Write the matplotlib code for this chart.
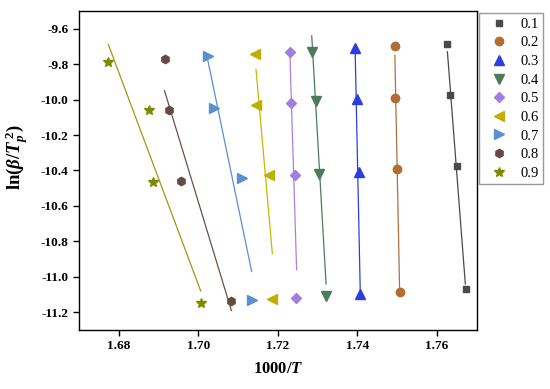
import numpy as np
import matplotlib
matplotlib.use('Agg')
import matplotlib.pyplot as plt
from matplotlib.ticker import FormatStrFormatter

plt.rcParams['font.family'] = ['Liberation Serif', 'DejaVu Serif']
plt.rcParams['axes.unicode_minus'] = False
plt.rcParams['mathtext.fontset'] = 'custom'
plt.rcParams['mathtext.rm'] = 'Liberation Serif:bold'
plt.rcParams['mathtext.bf'] = 'Liberation Serif:bold'
plt.rcParams['mathtext.it'] = 'Liberation Serif:italic:bold'

# conversion degree alpha
labels = ['0.1', '0.2', '0.3', '0.4', '0.5', '0.6', '0.7', '0.8', '0.9']

# 1000/T for each alpha (4 heating rates)
x_data = [
    [1.7626, 1.7632, 1.7651, 1.7673],
    [1.7494, 1.7495, 1.7500, 1.7506],
    [1.7394, 1.7399, 1.7403, 1.7407],
    [1.7285, 1.7296, 1.7304, 1.7320],
    [1.7230, 1.7233, 1.7243, 1.7246],
    [1.7142, 1.7144, 1.7178, 1.7184],
    [1.7024, 1.7039, 1.7109, 1.7135],
    [1.6915, 1.6925, 1.6957, 1.7083],
    [1.6772, 1.6875, 1.6886, 1.7006],
]
# ln(beta/Tp^2)
y_data = [
    [-9.685, -9.972, -10.377, -11.067],
    [-9.700, -9.989, -10.394, -11.088],
    [-9.709, -9.999, -10.409, -11.095],
    [-9.732, -10.010, -10.418, -11.110],
    [-9.732, -10.018, -10.424, -11.118],
    [-9.741, -10.029, -10.428, -11.123],
    [-9.755, -10.046, -10.441, -11.129],
    [-9.769, -10.057, -10.460, -11.137],
    [-9.785, -10.061, -10.465, -11.146],
]

# fitted lines, end points
fit_top_x = [1.7626, 1.7494, 1.7394, 1.7285, 1.7230, 1.7145, 1.7024, 1.6915, 1.6774]
fit_top_y = [-9.73, -9.75, -9.71, -9.64, -9.73, -9.83, -9.78, -9.95, -9.69]
fit_bot_x = [1.7671, 1.7506, 1.7407, 1.7321, 1.7247, 1.7186, 1.7134, 1.7083, 1.7006]
fit_bot_y = [-11.04, -11.09, -11.09, -11.04, -10.96, -10.87, -10.97, -11.19, -11.08]

markers = ['s', 'o', '^', 'v', 'D', '<', '>', 'h', '*']
sizes = [5, 6, 7, 7, 5, 7, 7, 6, 7]
colors = ['#4a4a4a', '#b26d34', '#2b3fe0', '#4b7b5b', '#a27fdf',
          '#bfb000', '#5a8fd0', '#654a40', '#7d8a00']
line_colors = ['#4a4a4a', '#b0703e', '#2b3fe0', '#4b7b5b', '#a882e0',
               '#c8b800', '#5a8fd0', '#6b5048', '#9a9a18']

fig = plt.figure(figsize=(5.5, 3.89), dpi=100)
ax = fig.add_axes([0.1436, 0.1517, 0.7234, 0.82])

for i in range(len(labels)):
    ax.plot([fit_top_x[i], fit_bot_x[i]], [fit_top_y[i], fit_bot_y[i]],
            color=line_colors[i], lw=0.9, zorder=2)
    ax.plot(x_data[i], y_data[i], linestyle='none', marker=markers[i],
            ms=sizes[i], color=colors[i], mec=colors[i], label=labels[i], zorder=3)

ax.set_xlim(1.67, 1.77)
ax.set_ylim(-11.3, -9.5)
ax.set_xticks(np.arange(1.68, 1.7601, 0.02))
ax.set_yticks(np.arange(-11.2, -9.59, 0.2))
ax.xaxis.set_major_formatter(FormatStrFormatter('%.2f'))
ax.yaxis.set_major_formatter(FormatStrFormatter('%.1f'))
ax.tick_params(direction='out', length=4, width=1, labelsize=9.5)
for lab in ax.get_xticklabels() + ax.get_yticklabels():
    lab.set_fontweight('bold')
for sp in ax.spines.values():
    sp.set_linewidth(1.0)

ax.set_xlabel(r'$\mathrm{1000/}T$', fontsize=12, labelpad=6)
ax.set_ylabel(r'$\mathrm{ln(}\beta/T_p^{\,2}\mathrm{)}$', fontsize=13.5)
ax.yaxis.set_label_coords(-0.12, 0.542)

leg = ax.legend(loc='upper left', bbox_to_anchor=(0.8709, 0.9658),
                bbox_transform=fig.transFigure, borderaxespad=0,
                fontsize=10.5, frameon=True, fancybox=False, edgecolor='#808080',
                borderpad=0.3, labelspacing=0.37, handlelength=2.2,
                handletextpad=0.35, numpoints=1)
leg.get_frame().set_linewidth(1.0)

fig.savefig('out.png', dpi=100)
